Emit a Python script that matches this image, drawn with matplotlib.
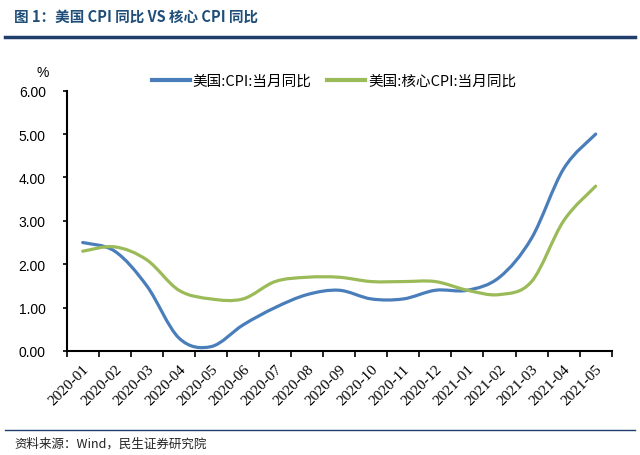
import matplotlib
matplotlib.use("Agg")
import matplotlib.pyplot as plt
from matplotlib.path import Path
from matplotlib.patches import PathPatch
from matplotlib.lines import Line2D
import numpy as np

plt.rcParams['font.family'] = ['Noto Sans CJK SC', 'DejaVu Sans']

months = ["2020-01", "2020-02", "2020-03", "2020-04", "2020-05", "2020-06",
          "2020-07", "2020-08", "2020-09", "2020-10", "2020-11", "2020-12",
          "2021-01", "2021-02", "2021-03", "2021-04", "2021-05"]
cpi = [2.5, 2.3, 1.5, 0.3, 0.1, 0.6, 1.0, 1.3, 1.4, 1.2, 1.2, 1.4,
       1.4, 1.7, 2.6, 4.2, 5.0]
core_cpi = [2.3, 2.4, 2.1, 1.4, 1.2, 1.2, 1.6, 1.7, 1.7, 1.6, 1.6, 1.6,
            1.4, 1.3, 1.6, 3.0, 3.8]
series_names = ["美国:CPI:当月同比", "美国:核心CPI:当月同比"]
colors = ["#4A7EBB", "#9BBB59"]
yticks = [0, 1, 2, 3, 4, 5, 6]

fig = plt.figure(figsize=(6.4, 4.56), dpi=100)
ax = fig.add_axes([0.1042, 0.2281, 0.8516, 0.5708])


def smooth_path(xs, ys):
    pts = np.column_stack([xs, ys]).astype(float)
    n = len(pts)
    verts = [pts[0]]
    codes = [Path.MOVETO]
    for i in range(n - 1):
        p0 = pts[i - 1] if i > 0 else pts[i]
        p1 = pts[i]
        p2 = pts[i + 1]
        p3 = pts[i + 2] if i + 2 < n else pts[i + 1]
        c1 = p1 + (p2 - p0) / 6.0
        c2 = p2 - (p3 - p1) / 6.0
        verts += [c1, c2, p2]
        codes += [Path.CURVE4] * 3
    return Path(verts, codes)


x = np.arange(len(months))
for vals, col in zip([cpi, core_cpi], colors):
    patch = PathPatch(smooth_path(x, vals), facecolor="none", edgecolor=col,
                      lw=2.3, capstyle="round", joinstyle="round", zorder=3)
    ax.add_patch(patch)

ax.set_xlim(-0.5, len(months) - 0.5)
ax.set_ylim(0, 6)
ax.set_yticks(yticks)
ax.set_yticklabels([f"{v:.2f}" for v in yticks], family="Liberation Sans", fontsize=10)
ax.set_xticks(np.arange(-0.5, len(months), 1.0))
ax.set_xticklabels([])
ax.set_xticks(x, minor=True)
ax.set_xticklabels(months, minor=True, rotation=45, ha="right", va="top",
                   rotation_mode="anchor", family="Liberation Serif", fontsize=11)
ax.tick_params(axis="x", which="major", direction="out", length=4, width=1.2)
ax.tick_params(axis="x", which="minor", length=0, pad=8)
ax.tick_params(axis="y", direction="out", length=3, width=1.2, pad=12)
for s in ["top", "right"]:
    ax.spines[s].set_visible(False)
for s in ["left", "bottom"]:
    ax.spines[s].set_linewidth(1.5)
    ax.spines[s].set_color("black")

handles = [Line2D([], [], color=c, lw=3) for c in colors]
fig.legend(handles, series_names, loc="center", bbox_to_anchor=(0.522, 0.82),
           ncol=2, frameon=False, fontsize=10.5, handlelength=2.6,
           handletextpad=0.2, columnspacing=1.1)

fig.text(0.066, 1 - 73 / 456, "%", ha="center", va="center",
         family="Liberation Sans", fontsize=10)

title_color = "#1F4E79"
fig.text(0.022, 1 - 17 / 456, "图 1：美国 CPI 同比 VS 核心 CPI 同比", ha="left",
         va="center", fontsize=10.5, fontweight="bold", color=title_color)
fig.add_artist(Line2D([5 / 640, 635 / 640], [1 - 38 / 456, 1 - 38 / 456],
                      transform=fig.transFigure, color="#1F3E6B", lw=2.5))
fig.add_artist(Line2D([5 / 640, 635 / 640], [1 - 431 / 456, 1 - 431 / 456],
                      transform=fig.transFigure, color="#1F3E6B", lw=1.0))
fig.text(0.022, 1 - 444 / 456, "资料来源：Wind，民生证券研究院", ha="left",
         va="center", fontsize=9, color="#222222")

fig.savefig("out.png", dpi=100)
